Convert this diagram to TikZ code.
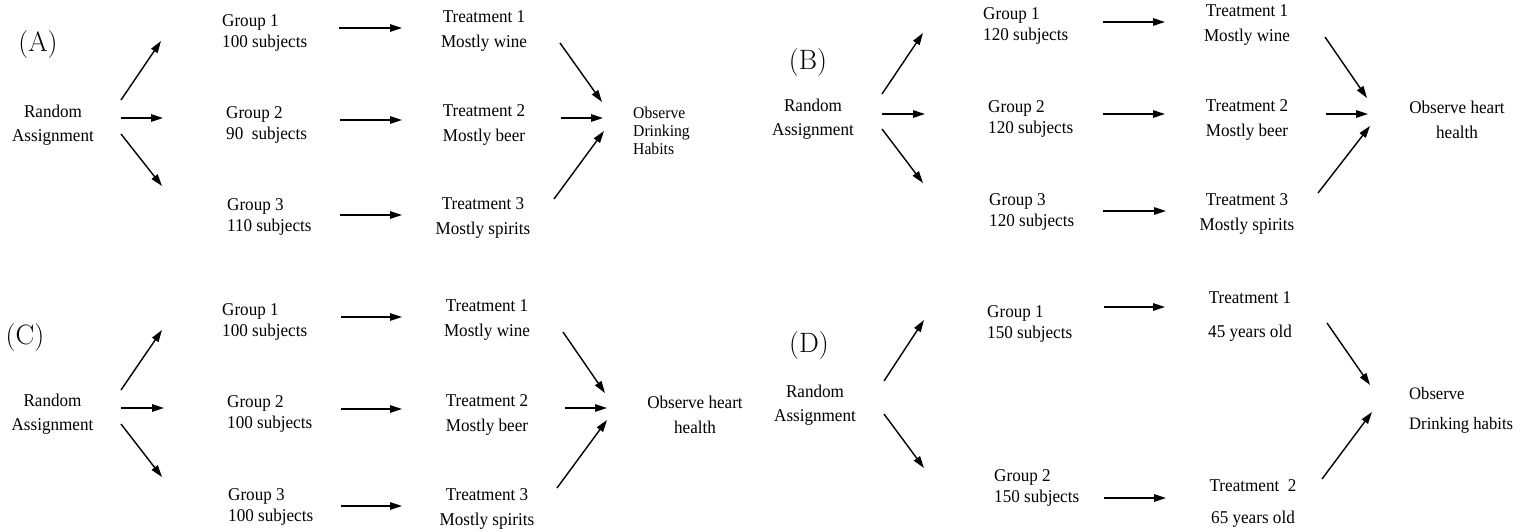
\documentclass[tikz,border=0pt]{standalone}
\usepackage{fontspec}
\setmainfont{Liberation Serif}[FakeStretch=0.95]
\newfontfamily\lmfont{Latin Modern Roman}
\usetikzlibrary{arrows.meta}
\newcommand\arr[5]{\coordinate (#5s) at (#1,#2); \coordinate (#5e) at (#3,#4); \draw[arr] (#5s) -- (#5e);}
\begin{document}
\begin{tikzpicture}[x=1pt,y=-1pt,
  arr/.style={line width=1.4pt,-{Triangle[length=12pt,width=7.5pt]}},
  txt/.style={inner sep=0pt,font=\fontsize{18}{24}\selectfont,align=center},
  grp/.style={inner sep=0pt,font=\fontsize{18}{21}\selectfont,align=left,anchor=west},
  trt/.style={inner sep=0pt,font=\fontsize{18}{25}\selectfont,align=center},
  lab/.style={inner sep=0pt,font=\lmfont\fontsize{28}{30}\selectfont}]
\useasboundingbox[fill=white] (0,0) rectangle (1524,531);

% ---------- Panel A ----------
\node[lab] (labA) at (38,45) {(A)};
\node[txt] (raA) at (53,125) {Random\\Assignment};
\node[grp] (gA1) at (222,33) {Group 1\\100 subjects};
\node[grp] (gA2) at (226,125) {Group 2\\90\ \ subjects};
\node[grp] (gA3) at (227,216.5) {Group 3\\110 subjects};
\node[trt] (tA1) at (484,30.5) {Treatment 1\\Mostly wine};
\node[trt] (tA2) at (484,124.5) {Treatment 2\\Mostly beer};
\node[trt] (tA3) at (483,218) {Treatment 3\\Mostly spirits};
\node[inner sep=0pt,font=\fontsize{16.5}{18}\selectfont,align=left,anchor=west] (oA) at (633,131) {Observe\\Drinking\\Habits};
\arr{121}{100}{161}{41}{aA1}
\arr{121}{118}{163}{118}{aA2}
\arr{121}{134}{162}{186}{aA3}
\arr{339}{28}{402}{28}{bA1}
\arr{340}{120}{402}{120}{bA2}
\arr{340}{215}{402}{215}{bA3}
\arr{560}{43}{602}{102}{cA1}
\arr{561}{118}{603}{118}{cA2}
\arr{554}{199}{604}{131}{cA3}

% ---------- Panel B ----------
\node[lab] (labB) at (808,63) {(B)};
\node[txt] (raB) at (813,119.5) {Random\\Assignment};
\node[grp] (gB1) at (983,26) {Group 1\\120 subjects};
\node[grp] (gB2) at (988,119) {Group 2\\120 subjects};
\node[grp] (gB3) at (989,212) {Group 3\\120 subjects};
\node[trt] (tB1) at (1247,25) {Treatment 1\\Mostly wine};
\node[trt] (tB2) at (1247,119.5) {Treatment 2\\Mostly beer};
\node[trt] (tB3) at (1247,213.5) {Treatment 3\\Mostly spirits};
\node[trt] (oB) at (1457,119.5) {Observe heart\\health};
\arr{882}{94}{923}{33}{aB1}
\arr{882}{114}{925}{114}{aB2}
\arr{882}{129}{923}{183}{aB3}
\arr{1103}{22}{1165}{22}{bB1}
\arr{1103}{114}{1165}{114}{bB2}
\arr{1103}{211}{1166}{211}{bB3}
\arr{1325}{37}{1367}{98}{cB1}
\arr{1326}{114}{1368}{114}{cB2}
\arr{1318}{193}{1370}{126}{cB3}

% ---------- Panel C ----------
\node[lab] (labC) at (25,338) {(C)};
\node[txt] (raC) at (52.5,414.5) {Random\\Assignment};
\node[grp] (gC1) at (222,321.5) {Group 1\\100 subjects};
\node[grp] (gC2) at (227,414) {Group 2\\100 subjects};
\node[grp] (gC3) at (228,507) {Group 3\\100 subjects};
\node[trt] (tC1) at (487,319.5) {Treatment 1\\Mostly wine};
\node[trt] (tC2) at (487,414.5) {Treatment 2\\Mostly beer};
\node[trt] (tC3) at (487,509) {Treatment 3\\Mostly spirits};
\node[trt] (oC) at (695,415) {Observe heart\\health};
\arr{121}{390}{162}{330}{aC1}
\arr{121}{408}{164}{408}{aC2}
\arr{121}{424}{162}{477}{aC3}
\arr{341}{317}{402}{317}{bC1}
\arr{341}{409}{402}{409}{bC2}
\arr{341}{506}{402}{506}{bC3}
\arr{563}{332}{605}{393}{cC1}
\arr{565}{408}{607}{408}{cC2}
\arr{557}{488}{607}{420}{cC3}

% ---------- Panel D ----------
\node[lab] (labD) at (809,346) {(D)};
\node[txt] (raD) at (815,405) {Random\\Assignment};
\node[grp] (gD1) at (987,323.5) {Group 1\\150 subjects};
\node[grp] (gD2) at (994,487.5) {Group 2\\150 subjects};
\node[inner sep=0pt,font=\fontsize{18}{34}\selectfont,align=center] (tD1) at (1250,316) {Treatment 1\\45 years old};
\node[inner sep=0pt,font=\fontsize{18}{32}\selectfont,align=center] (tD2) at (1253,503) {Treatment\ \ 2\\65 years old};
\node[inner sep=0pt,font=\fontsize{17.5}{30}\selectfont,align=left,anchor=west] (oD) at (1409,410) {Observe\\Drinking habits};
\arr{884}{381}{924}{320}{aD1}
\arr{884}{414}{924}{468}{aD2}
\arr{1104}{307}{1165}{307}{bD1}
\arr{1104}{498}{1166}{498}{bD2}
\arr{1327}{323}{1370}{385}{cD1}
\arr{1322}{479}{1372}{412}{cD2}
\end{tikzpicture}
\end{document}
